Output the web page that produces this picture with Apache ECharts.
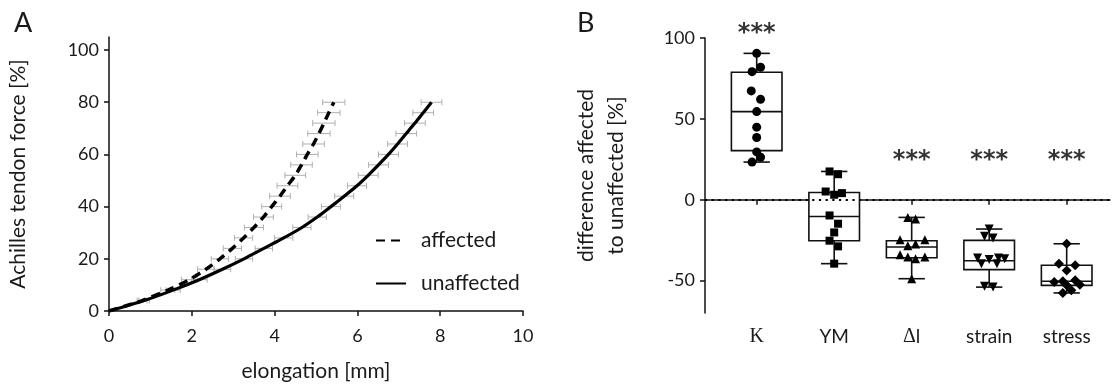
<!DOCTYPE html>
<html><head><meta charset="utf-8">
<script src="https://cdn.jsdelivr.net/npm/echarts@6/dist/echarts.min.js"></script>
<style>html,body{margin:0;padding:0;background:#fff}#c{width:1117px;height:387px}</style>
</head><body><div id="c"></div>
<script>
// ---------- Panel A data ----------
const forceLevels = [0,4,8,12,16,20,24,28,32,36,40,44,48,52,56,60,64,68,72,76,80];
const affectedElong = [0,0.80,1.42,1.94,2.34,2.68,2.98,3.25,3.50,3.73,3.93,4.13,4.31,4.50,4.65,4.79,4.94,5.07,5.19,5.31,5.43];
const affectedErr   = [0,0.12,0.17,0.19,0.20,0.21,0.22,0.22,0.23,0.24,0.24,0.25,0.25,0.25,0.26,0.26,0.26,0.27,0.27,0.27,0.27];
const unaffectedElong = [0,0.85,1.55,2.18,2.74,3.26,3.74,4.22,4.66,5.03,5.36,5.68,5.99,6.26,6.51,6.75,6.97,7.18,7.39,7.59,7.79];
const unaffectedErr   = [0,0.13,0.17,0.19,0.20,0.21,0.21,0.22,0.22,0.22,0.23,0.23,0.23,0.24,0.24,0.24,0.24,0.25,0.25,0.25,0.25];
const xTicksA = [0,2,4,6,8,10];
const yTicksA = [0,20,40,60,80,100];

// ---------- Panel B data ----------
const categories = ['K','YM','Δl','strain','stress'];
const kValues      = [90.5,81.9,79.2,67.3,62.1,54.5,44.9,38.5,29.6,26.3,23.3];
const kJitter      = [0,0.05,-0.06,-0.07,0.05,0,0,0,0,0.05,-0.06];
const ymValues     = [17.5,15.8,5.1,3.1,4.1,-9.7,-14.8,-20.2,-25.3,-28.8,-39.5];
const ymJitter     = [-0.06,0.05,-0.11,0,0.1,-0.06,0.05,0,-0.06,0.05,0];
const dlValues     = [-10.9,-11.9,-24.7,-24.7,-28.4,-27.4,-34.0,-35.4,-36.4,-35.4,-48.8];
const dlJitter     = [-0.05,0.05,-0.15,0.17,-0.05,0.05,-0.15,-0.05,0.05,0.17,0];
const strainValues = [-18.1,-22.6,-23.7,-36.0,-37.0,-36.0,-39.5,-39.5,-36.5,-53.5,-54.0];
const strainJitter = [0,-0.06,0.05,-0.15,0,0.12,-0.1,0.1,0.2,-0.06,0.05];
const stressValues = [-27.2,-39.5,-40.5,-43.8,-50.8,-50.4,-49.8,-52.5,-52.9,-57.6,-55.9];
const stressJitter = [0,-0.1,0.11,0,-0.16,-0.05,0.11,0.17,0,-0.05,0.06];
// box stats: [min, Q1, median, Q3, max]
const kBox      = [23.3,30.4,54.5,78.8,90.5];
const ymBox     = [-39.5,-25.3,-10.3,4.5,17.5];
const dlBox     = [-48.8,-35.8,-29.2,-25.3,-10.9];
const strainBox = [-54.0,-43.2,-37.7,-25.1,-18.1];
const stressBox = [-57.6,-52.9,-50.4,-40.5,-27.2];
const yTicksB = [-50,0,50,100];
const sigCategories = [1,3,4,5];
const sigLevels = [107,28.5,28.5,28.5];

const FONT = 'Lato';
const TXT = '#1a1a1a';

const chart = echarts.init(document.getElementById('c'), null, {renderer:'canvas'});

function pairs(xs, ys){ return xs.map((x,i)=>[x, ys[i]]); }
function errData(xs, errs){ return xs.map((x,i)=>[x, forceLevels[i], errs[i]]).filter(d=>d[2]>0); }
function pts(idx, vals, jit){ return vals.map((v,i)=>[idx+jit[i], v]); }

const boxes = [kBox, ymBox, dlBox, strainBox, stressBox].map((b,i)=>[i+1].concat(b));

const errRender = function(params, api){
  const xc = api.value(0), y = api.value(1), e = api.value(2);
  const l = api.coord([xc-e, y]), r = api.coord([xc+e, y]);
  const st = {stroke:'#b0b0b0', lineWidth:1};
  return {type:'group', children:[
    {type:'line', shape:{x1:l[0],y1:l[1],x2:r[0],y2:r[1]}, style:st},
    {type:'line', shape:{x1:l[0],y1:l[1]-3,x2:l[0],y2:l[1]+3}, style:st},
    {type:'line', shape:{x1:r[0],y1:r[1]-3,x2:r[0],y2:r[1]+3}, style:st}
  ]};
};

const boxRender = function(params, api){
  const x = api.value(0);
  const pMin = api.coord([x, api.value(1)]);
  const pQ1 = api.coord([x, api.value(2)]);
  const pMed = api.coord([x, api.value(3)]);
  const pQ3 = api.coord([x, api.value(4)]);
  const pMax = api.coord([x, api.value(5)]);
  const hw = api.size([0.653, 0])[0]/2;
  const cw = api.size([0.34, 0])[0]/2;
  const cx = pMed[0];
  const st = {stroke:'#111', lineWidth:1.6, fill:null};
  return {type:'group', children:[
    {type:'line', shape:{x1:cx,y1:pMax[1],x2:cx,y2:pQ3[1]}, style:st},
    {type:'line', shape:{x1:cx,y1:pQ1[1],x2:cx,y2:pMin[1]}, style:st},
    {type:'line', shape:{x1:cx-cw,y1:pMax[1],x2:cx+cw,y2:pMax[1]}, style:st},
    {type:'line', shape:{x1:cx-cw,y1:pMin[1],x2:cx+cw,y2:pMin[1]}, style:st},
    {type:'rect', shape:{x:cx-hw,y:pQ3[1],width:2*hw,height:pQ1[1]-pQ3[1]}, style:{fill:'#fff',stroke:'#111',lineWidth:1.6}},
    {type:'line', shape:{x1:cx-hw,y1:pMed[1],x2:cx+hw,y2:pMed[1]}, style:st}
  ]};
};

const axisCommon = {
  axisLine:{show:true, lineStyle:{color:'#111', width:1.5}},
  axisTick:{show:true, inside:false, length:5, lineStyle:{color:'#111', width:1.5}},
  splitLine:{show:false},
  axisLabel:{color:TXT, fontFamily:FONT, fontSize:18}
};

const option = {
  animation:false,
  backgroundColor:'#fff',
  textStyle:{fontFamily:FONT},
  title:[
    {text:'A', left:9, top:5, textStyle:{fontFamily:FONT, fontSize:27, fontWeight:'normal', color:TXT}},
    {text:'B', left:572, top:5, textStyle:{fontFamily:FONT, fontSize:27, fontWeight:'normal', color:TXT}}
  ],
  legend:{
    left:370, top:225, orient:'vertical', itemWidth:30, itemHeight:14, itemGap:22,
    data:['affected','unaffected'],
    itemStyle:{color:'rgba(0,0,0,0)', borderColor:'rgba(0,0,0,0)', borderWidth:0},
    textStyle:{fontFamily:FONT, fontSize:21, color:TXT, padding:[0,0,0,10]}
  },
  grid:[
    {left:109, top:37, width:414, height:276},
    {left:705, top:38, width:405, height:275}
  ],
  xAxis:[
    Object.assign({}, axisCommon, {
      gridIndex:0, type:'value', min:0, max:10, interval:2,
      name:'elongation [mm]', nameLocation:'middle', nameGap:50,
      nameTextStyle:{fontFamily:FONT, fontSize:21, color:TXT},
      axisTick:Object.assign({}, axisCommon.axisTick, {customValues:xTicksA}),
      axisLabel:Object.assign({}, axisCommon.axisLabel, {customValues:xTicksA, margin:16})
    }),
    Object.assign({}, axisCommon, {
      gridIndex:1, type:'value', min:0.333, max:5.559,
      axisTick:Object.assign({}, axisCommon.axisTick, {customValues:[1,2,3,4,5]}),
      axisLabel:Object.assign({}, axisCommon.axisLabel, {
        customValues:[1,2,3,4,5], margin:14, fontSize:19,
        formatter:function(v){
          const c = categories[Math.round(v)-1];
          if (c === 'K') return '{s|K}';
          if (c === 'Δl') return '{s|Δ}l';
          return c;
        },
        rich:{s:{fontFamily:'Liberation Serif', fontSize:20, color:TXT}}
      })
    })
  ],
  yAxis:[
    Object.assign({}, axisCommon, {
      gridIndex:0, type:'value', min:0, max:105,
      name:'Achilles tendon force [%]', nameLocation:'middle', nameGap:80,
      nameTextStyle:{fontFamily:FONT, fontSize:21, color:TXT},
      axisTick:Object.assign({}, axisCommon.axisTick, {customValues:yTicksA}),
      axisLabel:Object.assign({}, axisCommon.axisLabel, {customValues:yTicksA, margin:10})
    }),
    Object.assign({}, axisCommon, {
      gridIndex:1, type:'value', min:-70, max:100,
      name:'difference affected\nto unaffected [%]', nameLocation:'middle', nameGap:74,
      nameTextStyle:{fontFamily:FONT, fontSize:21, color:TXT, lineHeight:30},
      axisTick:Object.assign({}, axisCommon.axisTick, {customValues:yTicksB}),
      axisLabel:Object.assign({}, axisCommon.axisLabel, {customValues:yTicksB, margin:10})
    })
  ],
  series:[
    {type:'custom', name:'errA', xAxisIndex:0, yAxisIndex:0, renderItem:errRender, data:errData(affectedElong, affectedErr), z:1, silent:true},
    {type:'custom', name:'errU', xAxisIndex:0, yAxisIndex:0, renderItem:errRender, data:errData(unaffectedElong, unaffectedErr), z:1, silent:true},
    {type:'line', name:'affected', xAxisIndex:0, yAxisIndex:0, data:pairs(affectedElong, forceLevels),
      smooth:0.3, symbol:'none', showSymbol:false, z:3,
      lineStyle:{color:'#000', width:3.5, type:[9,6]}, itemStyle:{color:'#000'}},
    {type:'line', name:'unaffected', xAxisIndex:0, yAxisIndex:0, data:pairs(unaffectedElong, forceLevels),
      smooth:0.3, symbol:'none', showSymbol:false, z:3,
      lineStyle:{color:'#000', width:3.2, type:'solid'}, itemStyle:{color:'#000'}},
    {type:'custom', name:'boxes', xAxisIndex:1, yAxisIndex:1, renderItem:boxRender, data:boxes, z:2, silent:true,
      markLine:{silent:true, symbol:'none', label:{show:false},
        lineStyle:{color:'#000', width:2.2, type:[2.2,4.5], cap:'butt'},
        data:[{yAxis:0}]}},
    {type:'scatter', name:'K', xAxisIndex:1, yAxisIndex:1, data:pts(1,kValues,kJitter), symbol:'circle', symbolSize:9, itemStyle:{color:'#000', opacity:1}, z:5},
    {type:'scatter', name:'YM', xAxisIndex:1, yAxisIndex:1, data:pts(2,ymValues,ymJitter), symbol:'rect', symbolSize:8, itemStyle:{color:'#000', opacity:1}, z:5},
    {type:'scatter', name:'dl', xAxisIndex:1, yAxisIndex:1, data:pts(3,dlValues,dlJitter), symbol:'triangle', symbolSize:9, itemStyle:{color:'#000', opacity:1}, z:5},
    {type:'scatter', name:'strain', xAxisIndex:1, yAxisIndex:1, data:pts(4,strainValues,strainJitter), symbol:'triangle', symbolRotate:180, symbolSize:9, itemStyle:{color:'#000', opacity:1}, z:5},
    {type:'scatter', name:'stress', xAxisIndex:1, yAxisIndex:1, data:pts(5,stressValues,stressJitter), symbol:'diamond', symbolSize:10, itemStyle:{color:'#000', opacity:1}, z:5},
    {type:'scatter', name:'sig', xAxisIndex:1, yAxisIndex:1, clip:false, silent:true,
      data:sigCategories.map((c,i)=>[c, sigLevels[i]]), symbolSize:1, itemStyle:{color:'rgba(0,0,0,0)'},
      label:{show:true, position:'inside', formatter:'***', fontFamily:'DejaVu Sans', fontWeight:'bold', fontSize:24, color:'#000', offset:[0,7]}, z:6}
  ]
};
chart.setOption(option);
</script>
</body></html>
